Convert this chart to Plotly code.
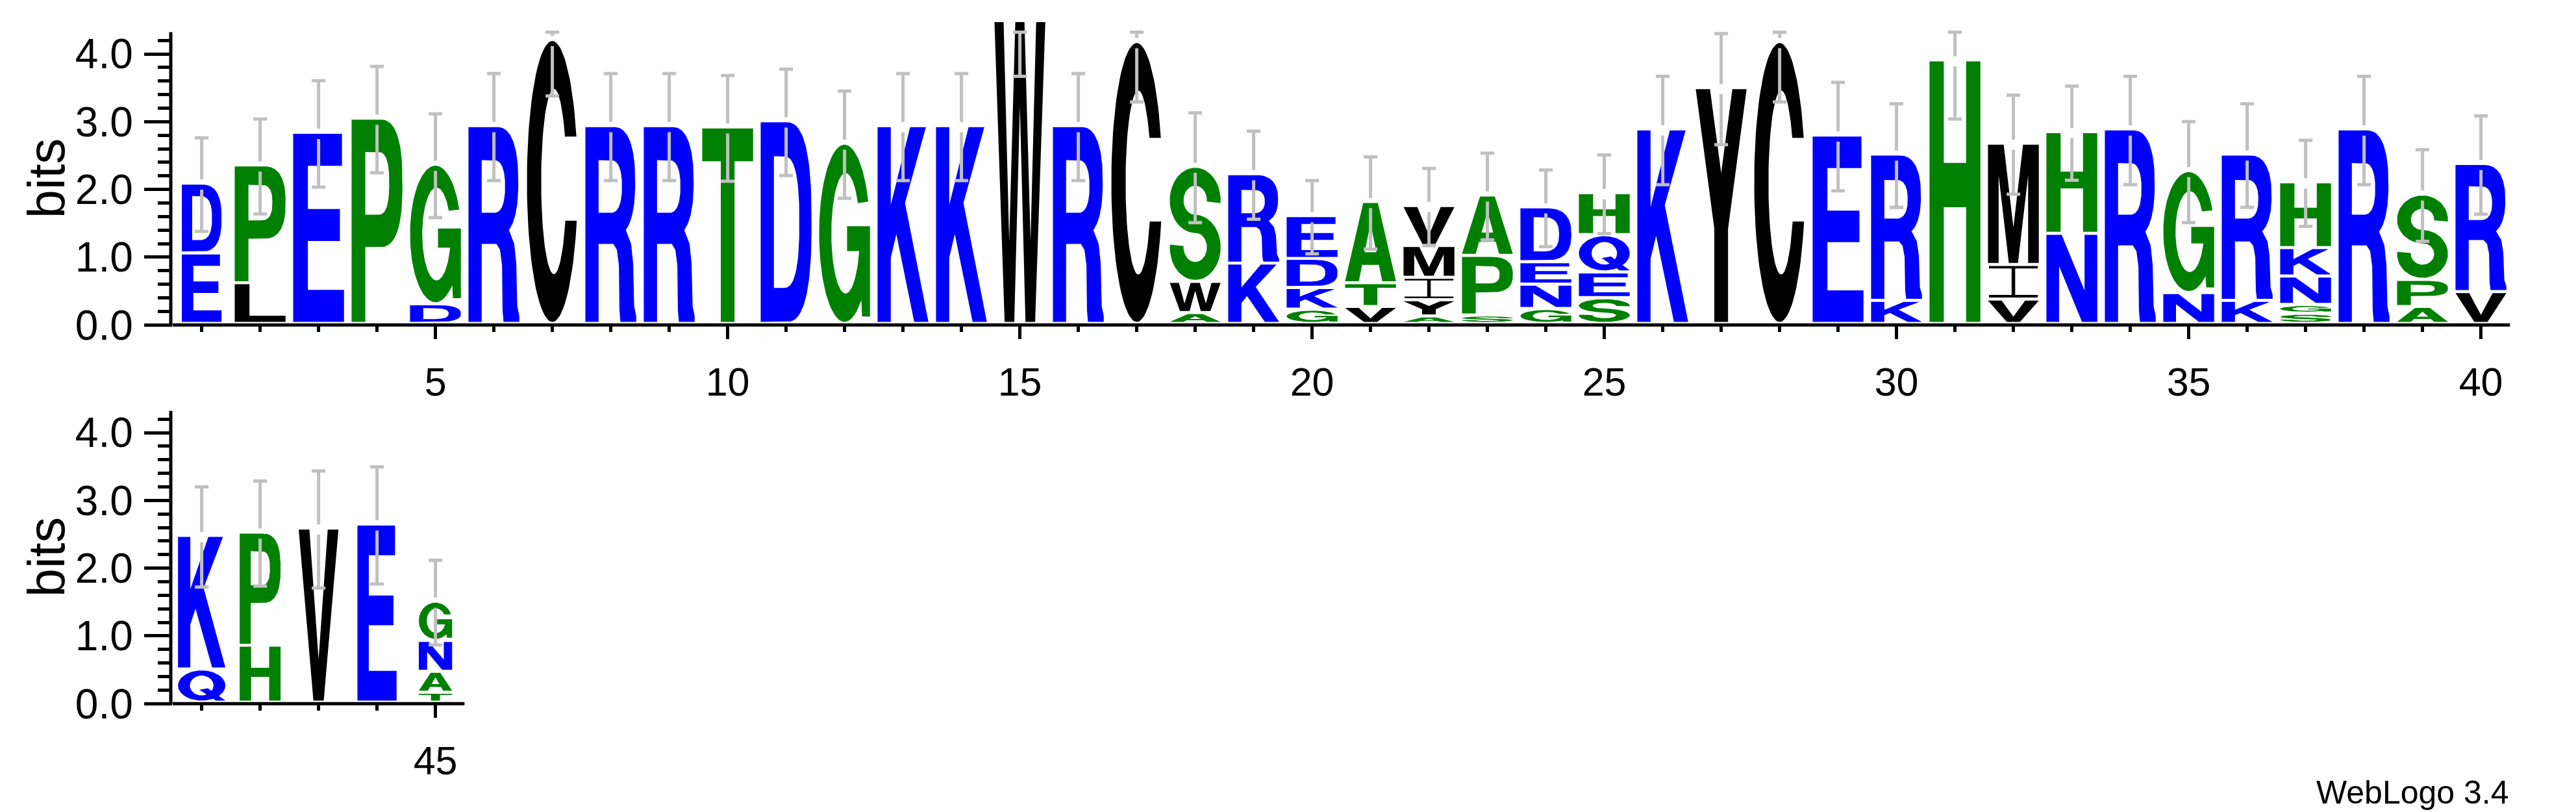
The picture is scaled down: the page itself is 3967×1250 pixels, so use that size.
import math
import plotly.graph_objects as go

# ---------------- data ----------------
POSITIONS = list(range(1, 46))
# letters of each stack, listed bottom -> top
STACK_LETTERS = ["ED", "LP", "E", "P", "DG", "R", "C", "R", "R", "T",
                 "D", "G", "K", "K", "W", "R", "C", "AWS", "KR", "GKDE",
                 "VTA", "AYIMV", "SPA", "GNED", "SEQH", "K", "Y", "C", "E", "KR",
                 "H", "VIM", "NH", "R", "NG", "KR", "SGNKH", "R", "APS", "VR",
                 "QK", "HP", "V", "E", "TANG"]
# height (bits) of each letter, bottom -> top
STACK_BITS = [[1.04, 1.03], [0.60, 1.74], [2.82], [3.03], [0.29, 2.06], [2.92], [4.19], [2.92], [2.92], [2.90],
              [2.99], [2.66], [2.92], [2.92], [4.47], [2.92], [4.16], [0.16, 0.46, 1.70], [0.89, 1.32],
              [0.21, 0.32, 0.43, 0.63],
              [0.25, 0.35, 1.20], [0.11, 0.24, 0.33, 0.47, 0.59], [0.125, 0.88, 0.89], [0.22, 0.36, 0.33, 0.81],
              [0.38, 0.38, 0.55, 0.62], [2.87], [3.48], [4.16], [2.78], [0.34, 2.16],
              [3.89], [0.36, 0.51, 1.79], [1.33, 1.50], [2.87], [0.455, 1.80], [0.34, 2.16],
              [0.15, 0.13, 0.42, 0.42, 0.97], [2.87], [0.25, 0.40, 1.26], [0.47, 1.89],
              [0.49, 1.97], [0.84, 1.67], [2.57], [2.63], [0.146, 0.31, 0.455, 0.58]]
# half-length of the error bar at each stack (bits)
ERROR_BITS = [0.69, 0.70, 0.785, 0.785, 0.765, 0.79, 0.81, 0.79, 0.79, 0.78,
              0.785, 0.79, 0.79, 0.79, 0.80, 0.79, 0.87, 0.81, 0.65, 0.54,
              0.68, 0.57, 0.64, 0.565, 0.58, 0.80, 0.82, 0.87, 0.80, 0.765,
              0.85, 0.73, 0.695, 0.80, 0.745, 0.765, 0.635, 0.80, 0.675, 0.725,
              0.74, 0.775, 0.865, 0.865, 0.625]
TOP_XTICKS = [5, 10, 15, 20, 25, 30, 35, 40]
BOTTOM_XTICKS = [45]
Y_TICKS = [0, 1, 2, 3, 4]
Y_TICK_LABELS = ["0.0", "1.0", "2.0", "3.0", "4.0"]
Y_MINOR_TICKS = [0.2, 0.4, 0.6, 0.8, 1.2, 1.4, 1.6, 1.8, 2.2, 2.4, 2.6, 2.8,
                 3.2, 3.4, 3.6, 3.8, 4.2]
Y_MAX = 4.32          # log2(20)
ROW_BREAK = 40        # positions per row

# ---------------- style ----------------
W, H = 3967, 1250
PX_POS = 90.0
PX_BIT = 104.3
X0_PX = 265.6
Y0_TOP_PX = 500.2
Y0_BOT_PX = 1083.2
Y_VIEW = 4.56
GLYPH_PAD = 0.045
EB_GAP = 0.075
EB_HALF = 0.117
DEFAULT_W = 0.87
WIDTH_OVERRIDE = {1: 0.68, 41: 0.81, 42: 0.70, 43: 0.68, 44: 0.67, 45: 0.57}
BLUE, GREEN, BLACK = "#0000ff", "#008000", "#000000"
COLOR = {}
for c in "DEKRNQ":
    COLOR[c] = BLUE
for c in "PGTHSA":
    COLOR[c] = GREEN
for c in "LCWYMVI":
    COLOR[c] = BLACK
FONT = "Liberation Sans, Arial, Helvetica, sans-serif"


# ---------------- glyph outlines (unit box) ----------------
def ell(cx, cy, rx, ry, a0, a1, n=60, p=2.0):
    pts = []
    e = 2.0 / p
    for i in range(n + 1):
        t = math.radians(a0 + (a1 - a0) * i / n)
        c, s = math.cos(t), math.sin(t)
        pts.append((cx + rx * math.copysign(abs(c) ** e, c),
                    cy + ry * math.copysign(abs(s) ** e, s)))
    return pts


def c_glyph():
    vt, vb, iry = 0.66, 0.36, 0.33
    at = math.degrees(math.asin((vt - 0.5) / 0.5))
    ab = math.degrees(math.asin((vb - 0.5) / 0.5))
    it = math.degrees(math.asin((vt - 0.5) / iry))
    ib = math.degrees(math.asin((vb - 0.5) / iry))
    outer = ell(0.5, 0.5, 0.5, 0.5, at, 360 + ab, n=90)
    inner = ell(0.53, 0.5, 0.25, iry, 360 + ib, it, n=90)
    return [[outer + inner]]


def g_glyph():
    outer = ell(0.5, 0.5, 0.5, 0.5, 21, 311.3, n=90)
    pts = outer + [(0.845, 0.03), (1.0, 0.03), (1.0, 0.54), (0.55, 0.54), (0.55, 0.40)]
    a0 = math.degrees(math.asin((0.40 - 0.5) / 0.34))
    pts += ell(0.52, 0.5, 0.28, 0.34, a0, -330, n=90)
    return [[pts]]


def s_glyph():
    uo = ell(0.5, 0.71, 0.5, 0.29, -5, 270, n=60)
    li = ell(0.5, 0.29, 0.23, 0.13, 90, -185, n=60)
    lo = ell(0.5, 0.29, 0.5, 0.29, -185, 90, n=60)
    ui = ell(0.5, 0.71, 0.23, 0.13, 270, -5, n=60)
    return [[uo + li + lo + ui]]


GLYPHS = {
    "A": [[[(0, 0), (0.27, 0), (0.335, 0.21), (0.665, 0.21), (0.73, 0), (1, 0), (0.645, 1), (0.355, 1)],
           [(0.385, 0.37), (0.615, 0.37), (0.5, 0.74)]]],
    "C": c_glyph(),
    "D": [[[(0, 0), (0.5, 0)] + ell(0.5, 0.5, 0.5, 0.5, -90, 90, p=2.6) + [(0, 1)],
           [(0.26, 0.17), (0.45, 0.17)] + ell(0.45, 0.5, 0.31, 0.33, -90, 90, p=2.6) + [(0.26, 0.83)]]],
    "E": [[[(0, 0), (1, 0), (1, 0.17), (0.29, 0.17), (0.29, 0.43), (0.92, 0.43), (0.92, 0.6),
            (0.29, 0.6), (0.29, 0.83), (0.96, 0.83), (0.96, 1), (0, 1)]]],
    "G": g_glyph(),
    "H": [[[(0, 0), (0.28, 0), (0.28, 0.44), (0.72, 0.44), (0.72, 0), (1, 0), (1, 1), (0.72, 1),
            (0.72, 0.61), (0.28, 0.61), (0.28, 1), (0, 1)]]],
    "I": [[[(0.02, 0), (0.98, 0), (0.98, 0.08), (0.535, 0.08), (0.535, 0.92), (0.98, 0.92), (0.98, 1),
            (0.02, 1), (0.02, 0.92), (0.465, 0.92), (0.465, 0.08), (0.02, 0.08)]]],
    "K": [[[(0, 0), (0.26, 0), (0.26, 0.33), (0.37, 0.45), (0.72, 0), (1, 0), (0.54, 0.61), (0.95, 1),
            (0.64, 1), (0.26, 0.6), (0.26, 1), (0, 1)]]],
    "L": [[[(0, 0), (1, 0), (1, 0.165), (0.29, 0.165), (0.29, 1), (0, 1)]]],
    "M": [[[(0, 0), (0.21, 0), (0.21, 0.74), (0.41, 0), (0.59, 0), (0.79, 0.74), (0.79, 0), (1, 0), (1, 1),
            (0.69, 1), (0.5, 0.3), (0.31, 1), (0, 1)]]],
    "N": [[[(0, 0), (0.25, 0), (0.25, 0.64), (0.7, 0), (1, 0), (1, 1), (0.75, 1), (0.75, 0.36), (0.3, 1), (0, 1)]]],
    "P": [[[(0, 0), (0.27, 0), (0.27, 0.37), (0.55, 0.37)] + ell(0.55, 0.685, 0.45, 0.315, -90, 90, p=2.6) + [(0, 1)],
           [(0.27, 0.53), (0.52, 0.53)] + ell(0.52, 0.685, 0.22, 0.155, -90, 90, p=2.6) + [(0.27, 0.84)]]],
    "Q": [[ell(0.5, 0.5, 0.5, 0.5, 0, 360, n=100), ell(0.5, 0.5, 0.25, 0.33, 0, 360, n=100)],
          [[(0.45, 0.36), (0.63, 0.41), (1.0, 0.0), (0.8, 0.0)]]],
    "R": [[[(0, 0), (0.26, 0), (0.26, 0.40), (0.55, 0.40), (0.62, 0.37), (0.66, 0.29), (0.67, 0.06),
            (0.69, 0), (1, 0), (1, 0.03), (0.96, 0.08), (0.94, 0.3), (0.9, 0.4)]
           + ell(0.56, 0.72, 0.42, 0.28, -60, 90, p=2.4) + [(0, 1)],
           [(0.26, 0.56), (0.5, 0.56)] + ell(0.5, 0.695, 0.22, 0.135, -90, 90, p=2.4) + [(0.26, 0.83)]]],
    "S": s_glyph(),
    "T": [[[(0.365, 0), (0.635, 0), (0.635, 0.83), (1, 0.83), (1, 1), (0, 1), (0, 0.83), (0.365, 0.83)]]],
    "V": [[[(0, 1), (0.27, 1), (0.5, 0.24), (0.73, 1), (1, 1), (0.63, 0), (0.37, 0)]]],
    "W": [[[(0, 1), (0.18, 1), (0.29, 0.27), (0.41, 1), (0.59, 1), (0.71, 0.27), (0.82, 1), (1, 1),
            (0.8, 0), (0.61, 0), (0.5, 0.72), (0.39, 0), (0.2, 0)]]],
    "Y": [[[(0.365, 0), (0.635, 0), (0.635, 0.4), (1, 1), (0.72, 1), (0.5, 0.64), (0.28, 1), (0, 1),
            (0.365, 0.4)]]],
}


def orient(ring, ccw):
    a = 0.0
    for (x1, y1), (x2, y2) in zip(ring, ring[1:] + ring[:1]):
        a += x1 * y2 - x2 * y1
    if (a > 0) != ccw:
        ring = ring[::-1]
    return ring


fig = go.Figure()

# ---------------- letters ----------------
for p, letters, bits in zip(POSITIONS, STACK_LETTERS, STACK_BITS):
    xa, ya = ("x", "y") if p <= ROW_BREAK else ("x2", "y2")
    w = WIDTH_OVERRIDE.get(p, DEFAULT_W)
    base = 0.0
    for ch, b in zip(letters, bits):
        g0 = base + GLYPH_PAD
        gh = b - GLYPH_PAD
        col = COLOR[ch]
        for part in GLYPHS[ch]:
            xs, ys = [], []
            for k, ring in enumerate(part):
                ring = orient(list(ring), ccw=(k == 0))
                for u, v in ring:
                    xs.append(p - w / 2 + u * w)
                    ys.append(g0 + v * gh)
                xs.append(None)
                ys.append(None)
            fig.add_trace(go.Scatter(
                x=xs, y=ys, mode="lines", fill="toself", fillcolor=col,
                line=dict(width=0, color=col), xaxis=xa, yaxis=ya,
                name=f"{ch} (pos {p}, {b:.2f} bits)", hoverinfo="name",
                showlegend=False))
        base += b

# ---------------- error bars ----------------
for row in ("top", "bottom"):
    xs, ys = [], []
    for p, bits, e in zip(POSITIONS, STACK_BITS, ERROR_BITS):
        if (p <= ROW_BREAK) != (row == "top"):
            continue
        t = sum(bits)
        hi = min(t + e, Y_MAX)
        lo = t - e
        segs = [(lo, min(hi, t - EB_GAP))]
        if t + EB_GAP < hi:
            segs.append((t + EB_GAP, hi))
        for a, b in segs:
            xs += [p, p, None]
            ys += [a, b, None]
        for yy in (hi, lo):
            xs += [p - EB_HALF, p + EB_HALF, None]
            ys += [yy, yy, None]
    xa, ya = ("x", "y") if row == "top" else ("x2", "y2")
    fig.add_trace(go.Scatter(x=xs, y=ys, mode="lines", line=dict(color="#c0c0c0", width=5),
                             xaxis=xa, yaxis=ya, hoverinfo="skip", showlegend=False))


def ydomain(y0px):
    return [(H - y0px) / H, (H - (y0px - Y_VIEW * PX_BIT)) / H]


top_minor = [v for v in POSITIONS if v <= ROW_BREAK and v % 5]
bot_minor = [v for v in POSITIONS if v > ROW_BREAK and v % 5]

xcommon = dict(showgrid=False, zeroline=False, showline=False, ticks="outside", ticklen=21,
               tickwidth=5, tickcolor="black", tickfont=dict(family=FONT, size=61, color="black"),
               ticklabelstandoff=14, automargin=False, fixedrange=True)
ycommon = dict(showgrid=False, zeroline=False, showline=False, ticks="outside", ticklen=43,
               tickwidth=5, tickcolor="black", tickfont=dict(family=FONT, size=64, color="black"),
               tickmode="array", tickvals=Y_TICKS, ticktext=Y_TICK_LABELS, ticklabelstandoff=4,
               minor=dict(ticks="outside", ticklen=22, tickwidth=5, tickcolor="black",
                          tickvals=Y_MINOR_TICKS),
               range=[0, Y_VIEW], automargin=False, fixedrange=True)

fig.update_layout(
    width=W, height=H, autosize=False,
    margin=dict(l=0, r=0, t=0, b=0, pad=0),
    paper_bgcolor="white", plot_bgcolor="white",
    xaxis=dict(xcommon, domain=[X0_PX / W, (X0_PX + ROW_BREAK * PX_POS) / W],
               range=[0.5, ROW_BREAK + 0.5], anchor="y",
               tickmode="array", tickvals=TOP_XTICKS, ticktext=[str(v) for v in TOP_XTICKS],
               minor=dict(ticks="outside", ticklen=10, tickwidth=5, tickcolor="black", tickvals=top_minor)),
    yaxis=dict(ycommon, domain=ydomain(Y0_TOP_PX), anchor="x"),
    xaxis2=dict(xcommon, domain=[X0_PX / W, (X0_PX + (len(POSITIONS) - ROW_BREAK) * PX_POS) / W],
                range=[ROW_BREAK + 0.5, len(POSITIONS) + 0.5], anchor="y2",
                tickmode="array", tickvals=BOTTOM_XTICKS, ticktext=[str(v) for v in BOTTOM_XTICKS],
                minor=dict(ticks="outside", ticklen=10, tickwidth=5, tickcolor="black", tickvals=bot_minor)),
    yaxis2=dict(ycommon, domain=ydomain(Y0_BOT_PX), anchor="x2"),
    showlegend=False,
)

# axis lines and axis titles
for xa, ya, y0px, x_start, x_end in (("x", "y", Y0_TOP_PX, 0.5, ROW_BREAK + 0.5),
                                     ("x2", "y2", Y0_BOT_PX, ROW_BREAK + 0.5, len(POSITIONS) + 0.5)):
    fig.add_shape(type="line", xref="paper", yref=ya, x0=(X0_PX - 2.6) / W, x1=(X0_PX - 2.6) / W,
                  y0=0, y1=Y_MAX, line=dict(color="black", width=5))
    fig.add_shape(type="line", xref=xa, yref="paper", x0=x_start, x1=x_end,
                  y0=(H - y0px) / H, y1=(H - y0px) / H, line=dict(color="black", width=5))
    fig.add_annotation(text="bits", xref="paper", yref=ya, x=72 / W, y=Y_MAX / 2, textangle=-90,
                       showarrow=False, xanchor="center", yanchor="middle",
                       font=dict(family=FONT, size=79, color="black"))

fig.add_annotation(text="WebLogo 3.4", xref="paper", yref="paper", x=3866 / W, y=(H - 1220) / H,
                   xanchor="right", yanchor="middle", showarrow=False,
                   font=dict(family=FONT, size=50, color="black"))

fig.write_html("out.html", config={"displayModeBar": False},
               post_script="document.body.style.margin='0';document.body.style.overflow='hidden';")
